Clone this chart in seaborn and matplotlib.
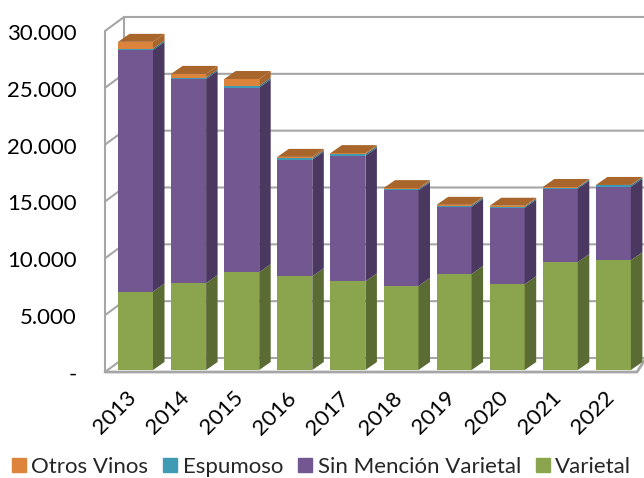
import matplotlib
matplotlib.use("Agg")
import matplotlib.pyplot as plt
import numpy as np
import seaborn as sns
from matplotlib.patches import Patch
from matplotlib.transforms import ScaledTranslation

sns.set_style("white")
plt.rcParams["font.family"] = ["Lato", "DejaVu Sans"]

years = ["2013", "2014", "2015", "2016", "2017", "2018", "2019", "2020", "2021", "2022"]
varietal = [6900, 7650, 8600, 8250, 7800, 7400, 8450, 7550, 9500, 9650]
sin_mencion = [21250, 17950, 16250, 10250, 11050, 8400, 5900, 6720, 6450, 6470]
espumoso = [130, 130, 150, 120, 130, 100, 120, 100, 100, 130]
otros = [590, 320, 600, 130, 100, 100, 60, 80, 50, 30]
y_ticks = [0, 5000, 10000, 15000, 20000, 25000, 30000]
y_labels = ["-", "5.000", "10.000", "15.000", "20.000", "25.000", "30.000"]

# name, values, front colour, side colour
series = [
    ("Varietal", varietal, "#8BA54E", "#5A6B33"),
    ("Sin Mención Varietal", sin_mencion, "#735790", "#4A3860"),
    ("Espumoso", espumoso, "#3F9AB3", "#2C6F82"),
    ("Otros Vinos", otros, "#DD843C", "#A8652C"),
]

W, H = 644, 478
PX_X = 53.1        # pixels per category
PX_Y = 341 / 30000 # pixels per unit
X0_PX = 135.5      # centre of first bar
Y0_PX = 370        # baseline of bars
FS = 16

# axes box in pixels
left, right, top, bottom = 100, 644, 10, 374

fig = plt.figure(figsize=(W / 100, H / 100), dpi=100)
ax = fig.add_axes([left / W, 1 - bottom / H, (right - left) / W, (bottom - top) / H])

bar_w = 35 / PX_X
dx = 11.5 / PX_X   # depth of the bars
dy = 8 / PX_Y

# ---------------- walls and floor ----------------
grid = "#A6A6A6"
lw = 1.5
wall_l = (105 - X0_PX) / PX_X
wall_b = (124 - X0_PX) / PX_X
floor_r = (637 - X0_PX) / PX_X
back_r = (646 - X0_PX) / PX_X
front_off = -176
back_off = 1056
for v in y_ticks:
    ax.plot([wall_l, wall_b, back_r], [v + front_off, v + back_off, v + back_off],
            color=grid, lw=lw, zorder=1, solid_capstyle="round")
ax.plot([wall_l, wall_l], [front_off, 30000 + front_off], color=grid, lw=lw, zorder=1)
ax.plot([wall_b, wall_b], [back_off, 30000 + back_off], color=grid, lw=lw, zorder=1)
ax.plot([wall_l, floor_r, back_r], [front_off, front_off, back_off], color=grid, lw=2, zorder=1)

# ---------------- bars ----------------
bottoms = np.zeros(len(years))
for name, vals, col, side in series:
    vals = np.array(vals)
    sns.barplot(x=years, y=vals, bottom=bottoms, color=col, saturation=1, width=bar_w,
                ax=ax, zorder=3, linewidth=0)
    for i, (b, v) in enumerate(zip(bottoms, vals)):
        xr = i + bar_w / 2
        ax.fill([xr, xr + dx, xr + dx, xr], [b, b + dy, b + v + dy, b + v],
                color=side, lw=0, zorder=3)
    bottoms = bottoms + vals

# top faces
for i, t in enumerate(bottoms):
    xl, xr = i - bar_w / 2, i + bar_w / 2
    ax.fill([xl, xr, xr + dx, xl + dx], [t, t, t + dy, t + dy],
            color=series[-1][3], lw=0, zorder=3)

ax.set_xlim((left - X0_PX) / PX_X, (right - X0_PX) / PX_X)
ax.set_ylim((Y0_PX - bottom) / PX_Y, (Y0_PX - top) / PX_Y)
ax.set_xlabel("")
ax.set_ylabel("")
sns.despine(ax=ax, left=True, bottom=True)

ax.set_yticks(y_ticks)
ax.set_yticklabels(y_labels, fontsize=FS, color="black")
ax.tick_params(axis="y", length=0, pad=17)
for lab in ax.get_yticklabels():
    lab.set_transform(lab.get_transform() + ScaledTranslation(0, -3 / 100, fig.dpi_scale_trans))
ax.set_xticks(range(len(years)))
ax.set_xticklabels(years, fontsize=FS, rotation=45, ha="right", va="center",
                   rotation_mode="anchor", color="black")
ax.tick_params(axis="x", length=0, pad=15)
for lab in ax.get_xticklabels():
    lab.set_transform(lab.get_transform() + ScaledTranslation(-2 / 100, 0, fig.dpi_scale_trans))

handles = [Patch(color=s[2]) for s in series[::-1]]
labels = [s[0] for s in series[::-1]]
fig.legend(handles, labels, ncol=4, frameon=False, fontsize=FS,
           loc="lower left", bbox_to_anchor=(12 / W, 1 / H), borderpad=0, borderaxespad=0,
           handlelength=0.62, handleheight=0.62, handletextpad=0.25, columnspacing=0.68)

fig.savefig("out.png", dpi=100)
